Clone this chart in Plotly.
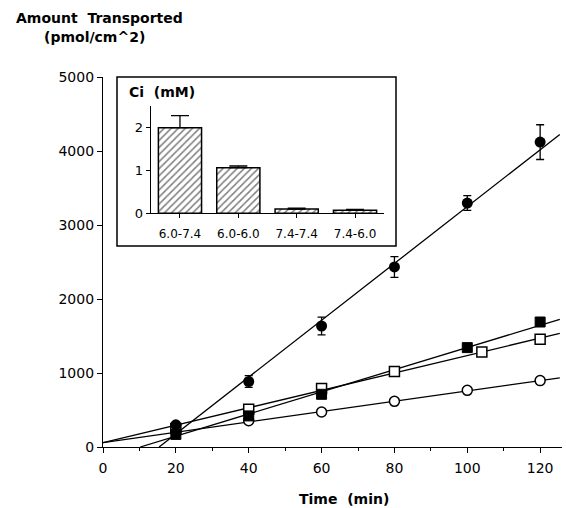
import plotly.graph_objects as go

# ---------------- data ----------------
time_fc = [20, 40, 60, 80, 100, 120]
amount_fc = [300, 885, 1635, 2433, 3297, 4120]
err_fc = [30, 80, 120, 140, 100, 235]

time_fsq = [20, 40, 60, 100, 120]
amount_fsq = [170, 420, 712, 1343, 1689]

time_osq = [20, 40, 60, 80, 104, 120]
amount_osq = [250, 509, 789, 1019, 1284, 1455]

time_oc = [20, 40, 60, 80, 100, 120]
amount_oc = [220, 355, 473, 617, 766, 897]

# regression lines (end points)
fit_fc_x = [15.4, 125.4]
fit_fc_y = [0, 4224]
fit_fsq_x = [10.2, 125.4]
fit_fsq_y = [0, 1725]
fit_osq_x = [0, 125.4]
fit_osq_y = [60, 1535]
fit_oc_x = [0, 125.4]
fit_oc_y = [60, 935]

# inset
inset_cats = ["6.0-7.4", "6.0-6.0", "7.4-7.4", "7.4-6.0"]
inset_ci = [2.0, 1.065, 0.10, 0.07]
inset_err = [0.28, 0.04, 0.02, 0.02]

x_ticks = [0, 20, 40, 60, 80, 100, 120]
y_ticks = [0, 1000, 2000, 3000, 4000, 5000]
inset_y_ticks = [0, 1, 2]

FONT = "DejaVu Sans"
W, H = 566, 508
ML, MR, MT, MB = 103, 4, 77, 61
PW, PH = W - ML - MR, H - MT - MB


def px(xp):
    return (xp - ML) / PW


def py(yp):
    return (H - MB - yp) / PH


fig = go.Figure()

line_style = dict(color="black", width=1.3)
for lx, ly in [(fit_fc_x, fit_fc_y), (fit_fsq_x, fit_fsq_y),
               (fit_osq_x, fit_osq_y), (fit_oc_x, fit_oc_y)]:
    fig.add_trace(go.Scatter(x=lx, y=ly, mode="lines", line=line_style,
                             showlegend=False, hoverinfo="skip"))

fig.add_trace(go.Scatter(
    x=time_oc, y=amount_oc, mode="markers", showlegend=False,
    marker=dict(symbol="circle", size=10, color="white",
                line=dict(color="black", width=1.5))))
fig.add_trace(go.Scatter(
    x=time_osq, y=amount_osq, mode="markers", showlegend=False,
    marker=dict(symbol="square", size=10, color="white",
                line=dict(color="black", width=1.5))))
fig.add_trace(go.Scatter(
    x=time_fsq, y=amount_fsq, mode="markers", showlegend=False,
    marker=dict(symbol="square", size=10, color="black",
                line=dict(color="black", width=1))))
fig.add_trace(go.Scatter(
    x=time_fc, y=amount_fc, mode="markers", showlegend=False,
    error_y=dict(type="data", array=err_fc, visible=True,
                 color="black", thickness=1.3, width=4),
    marker=dict(symbol="circle", size=11, color="black")))

# inset bars
fig.add_trace(go.Bar(
    x=inset_cats, y=inset_ci, xaxis="x2", yaxis="y2", width=0.74,
    showlegend=False,
    marker=dict(color="white", line=dict(color="black", width=1.5),
                pattern=dict(shape="/", fgcolor="black", bgcolor="white",
                             size=5, solidity=0.3)),
    error_y=dict(type="data", array=inset_err,
                 arrayminus=[0] * len(inset_err), symmetric=False,
                 visible=True, color="black", thickness=1.3, width=9)))

axis_common = dict(showgrid=False, zeroline=False, showline=True,
                   linecolor="black", linewidth=1.3, ticks="outside",
                   tickcolor="black", tickwidth=1.2,
                   tickfont=dict(family=FONT, size=14, color="black"))

fig.update_layout(
    width=W, height=H,
    margin=dict(l=ML, r=MR, t=MT, b=MB, pad=0),
    paper_bgcolor="white", plot_bgcolor="white",
    font=dict(family=FONT, color="black"),
    xaxis=dict(range=[0, 126], tickvals=x_ticks, ticklen=5,
               ticklabelstandoff=3,
               minor=dict(dtick=10, tick0=0, ticklen=3, ticks="outside",
                          tickcolor="black", tickwidth=1.2),
               **axis_common),
    yaxis=dict(range=[0, 5000], tickvals=y_ticks, ticklen=5,
               **axis_common),
    xaxis2=dict(domain=[px(150.8), px(384.2)], anchor="y2",
                type="category", range=[-0.5, 3.5], ticklen=4,
                ticklabelstandoff=5,
                showgrid=False, zeroline=False, showline=True,
                linecolor="black", linewidth=1.3, ticks="outside",
                tickcolor="black", tickwidth=1.2,
                tickfont=dict(family=FONT, size=12, color="black")),
    yaxis2=dict(domain=[py(213.3), py(106.3)], anchor="x2",
                range=[0, 2.5], tickvals=inset_y_ticks, ticklen=4,
                showgrid=False, zeroline=False, showline=True,
                linecolor="black", linewidth=1.3, ticks="outside",
                tickcolor="black", tickwidth=1.2,
                tickfont=dict(family=FONT, size=13, color="black")),
    bargap=0.26,
)

# inset frame
fig.add_shape(type="rect", xref="paper", yref="paper",
              x0=px(117), x1=px(396), y0=py(246), y1=py(77),
              line=dict(color="black", width=1.5), fillcolor="white",
              layer="below")

ann_font = dict(family=FONT, size=14, color="black")
fig.add_annotation(text="<b>Amount \u00a0Transported</b>", xref="paper",
                   yref="paper", x=px(14), y=py(18), xanchor="left",
                   yanchor="middle", showarrow=False, font=ann_font)
fig.add_annotation(text="<b>(pmol/cm^2)</b>", xref="paper", yref="paper",
                   x=px(42), y=py(37), xanchor="left", yanchor="middle",
                   showarrow=False, font=ann_font)
fig.add_annotation(text="<b>Ci \u00a0(mM)</b>", xref="paper", yref="paper",
                   x=px(127), y=py(92), xanchor="left", yanchor="middle",
                   showarrow=False, font=ann_font)
fig.add_annotation(text="<b>Time \u00a0(min)</b>", xref="paper", yref="paper",
                   x=px(344), y=py(499), xanchor="center", yanchor="middle",
                   showarrow=False, font=ann_font)

fig.write_html("out.html")
